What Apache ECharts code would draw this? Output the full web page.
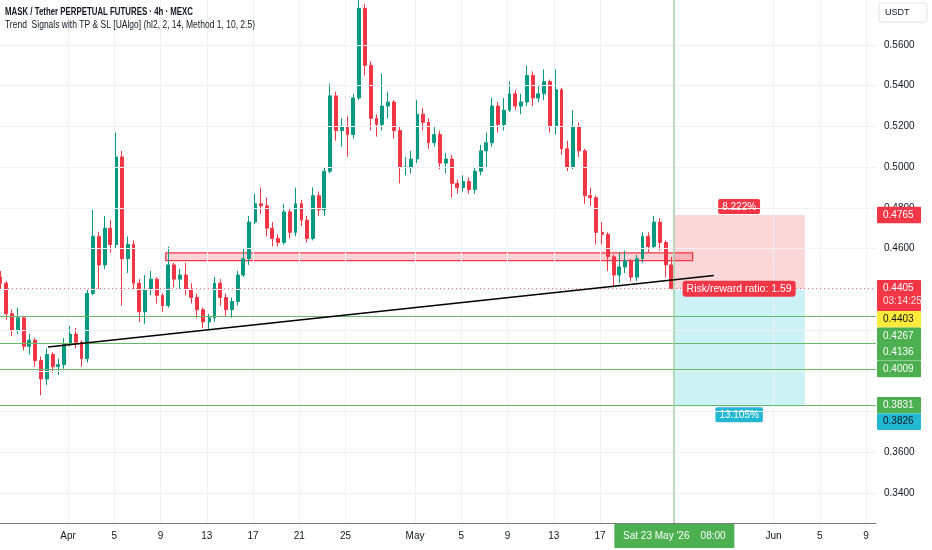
<!DOCTYPE html>
<html><head><meta charset="utf-8">
<script src="https://cdn.jsdelivr.net/npm/echarts@6/dist/echarts.min.js"></script>
<style>html,body{margin:0;padding:0;background:#fff}#c{width:932px;height:550px}</style>
</head><body><div id="c"></div><script>
// ---------- data (hours are measured from 1 Apr 00:00) ----------
const startHour = -144;      // first 12h candle opens 26 Mar 00:00
const periodH = 12;
const firstOpen = 0.446;
const closes = [
0.443,0.428,0.420,0.426,0.412,0.415,0.405,0.396,0.408,0.402,
0.403,0.413,0.418,0.414,0.406,0.438,0.466,0.452,0.470,0.462,
0.505,0.455,0.462,0.443,0.429,0.440,0.445,0.437,0.432,0.452,
0.445,0.447,0.440,0.436,0.430,0.424,0.426,0.443,0.436,0.430,
0.434,0.447,0.455,0.473,0.482,0.481,0.470,0.465,0.463,0.478,
0.468,0.482,0.474,0.465,0.486,0.479,0.498,0.535,0.518,0.520,
0.516,0.534,0.578,0.550,0.524,0.521,0.530,0.532,0.518,0.500,
0.500,0.504,0.526,0.522,0.512,0.516,0.502,0.504,0.492,0.490,
0.493,0.489,0.498,0.508,0.512,0.530,0.521,0.528,0.536,0.530,
0.532,0.545,0.534,0.536,0.542,0.520,0.538,0.509,0.500,0.520,
0.508,0.486,0.485,0.468,0.467,0.456,0.447,0.451,0.454,0.446,
0.455,0.466,0.461,0.473,0.463,0.452,0.4405];
const highs = [
0.449,0.444,0.430,0.431,0.427,0.418,0.416,0.407,0.411,0.409,
0.406,0.416,0.422,0.421,0.415,0.440,0.479,0.468,0.476,0.474,
0.517,0.508,0.466,0.464,0.445,0.447,0.449,0.446,0.438,0.461,
0.453,0.450,0.453,0.443,0.438,0.431,0.428,0.446,0.445,0.438,
0.436,0.449,0.460,0.476,0.487,0.490,0.485,0.473,0.467,0.482,
0.480,0.490,0.484,0.476,0.490,0.488,0.500,0.541,0.537,0.524,
0.525,0.536,0.590,0.580,0.552,0.526,0.546,0.537,0.533,0.520,
0.505,0.508,0.533,0.529,0.524,0.520,0.518,0.507,0.506,0.494,
0.496,0.495,0.500,0.511,0.517,0.534,0.532,0.534,0.542,0.538,
0.536,0.550,0.547,0.540,0.548,0.543,0.548,0.539,0.513,0.528,
0.522,0.509,0.490,0.486,0.473,0.468,0.457,0.458,0.459,0.455,
0.457,0.468,0.468,0.476,0.475,0.464,0.456];
const lows = [
0.440,0.425,0.417,0.418,0.410,0.408,0.402,0.388,0.393,0.399,
0.398,0.401,0.412,0.411,0.402,0.404,0.437,0.440,0.450,0.458,
0.460,0.432,0.448,0.440,0.424,0.423,0.437,0.433,0.429,0.431,
0.441,0.440,0.437,0.433,0.426,0.421,0.420,0.424,0.432,0.427,
0.426,0.432,0.446,0.452,0.472,0.477,0.466,0.461,0.461,0.462,
0.465,0.466,0.471,0.463,0.464,0.476,0.476,0.497,0.513,0.510,
0.505,0.514,0.533,0.545,0.518,0.515,0.518,0.524,0.514,0.492,
0.496,0.497,0.502,0.518,0.509,0.510,0.499,0.497,0.485,0.487,
0.488,0.487,0.487,0.496,0.500,0.510,0.517,0.518,0.527,0.528,
0.526,0.530,0.530,0.532,0.533,0.517,0.516,0.506,0.498,0.499,
0.505,0.482,0.481,0.462,0.462,0.449,0.441,0.443,0.448,0.444,
0.444,0.453,0.458,0.460,0.459,0.446,0.4395];

const xTickHours  = [0,96,192,288,384,480,576,720,816,912,1008,1104,1464,1560,1656];
const xTickLabels = ['Apr','5','9','13','17','21','25','May','5','9','13','17','Jun','5','9'];
const yGridTicks  = [0.34,0.36,0.38,0.40,0.42,0.44,0.46,0.48,0.50,0.52,0.54,0.56];
const yLabelTicks = [0.34,0.36,0.46,0.48,0.50,0.52,0.54,0.56];

const tpLevels    = [0.4267,0.4136,0.4009,0.3831];
const lastPrice   = 0.4405;
const entryPrice  = 0.4403;
const stopPrice   = 0.4765;
const targetPrice = 0.3826;
const posStartH   = 1256;   // 23 May 08:00
const posEndH     = 1529;
const stopPctText = '8.222%';
const targetPctText = '13.105%';
const rrText      = 'Risk/reward ratio: 1.59';
const zoneX       = [203, 1296];
const zoneY       = [0.4541, 0.4579];
const trendline   = [[-41.5, 0.4117], [1340, 0.4468]];
const crosshairH  = 1256;
const crosshairText = "Sat 23 May '26    08:00";
const countdown   = '03:14:25';
const badgePrices = [0.4765,0.4405,0.4403,0.4267,0.4136,0.4009,0.3831,0.3826];
const titleText   = 'MASK / Tether PERPETUAL FUTURES · 4h · MEXC';
const subText     = 'Trend  Signals with TP & SL [UAlgo] (hl2, 2, 14, Method 1, 10, 2.5)';

// ---------- chart ----------
const xMin = -141.1, xMax = 1676.5, yMin = 0.32522, yMax = 0.58210;
const FONT = "'Liberation Sans', Arial, sans-serif";
const UP = '#089981', DOWN = '#f23645';

const candles = closes.map((c, i) => {
  const o = i === 0 ? firstOpen : closes[i - 1];
  return [startHour + i * periodH + 4, o, c, lows[i], highs[i]];
});

const chart = echarts.init(document.getElementById('c'));
const option = {
  animation: false,
  backgroundColor: '#ffffff',
  textStyle: { fontFamily: FONT },
  grid: { left: 0, right: 56, top: 0, bottom: 27 },
  xAxis: {
    type: 'value', min: xMin, max: xMax,
    axisLine: { show: true, lineStyle: { color: '#787b86', width: 1 } },
    axisTick: { show: false }, splitLine: { show: false },
    axisLabel: {
      customValues: xTickHours,
      formatter: v => xTickLabels[xTickHours.indexOf(v)] ?? '',
      color: '#131722', fontSize: 10, margin: 8, fontFamily: FONT
    }
  },
  yAxis: {
    type: 'value', position: 'right', min: yMin, max: yMax,
    axisLine: { show: true, lineStyle: { color: '#787b86', width: 1 } },
    axisTick: { show: false }, splitLine: { show: false },
    axisLabel: {
      customValues: yLabelTicks,
      formatter: v => Number(v).toFixed(4),
      color: '#131722', fontSize: 10, margin: 8, fontFamily: FONT
    }
  },
  series: [
    { type: 'line', data: [], silent: true, z: 1,
      markLine: { silent: true, precision: 6, symbol: ['none','none'], label: { show: false },
        lineStyle: { color: '#eff1f5', width: 1, type: 'solid' },
        data: [...yGridTicks.map(v => ({ yAxis: v })), ...xTickHours.map(v => ({ xAxis: v }))] } },
    { type: 'line', data: [], silent: true, z: 2,
      markArea: { silent: true, data: [
        [{ name: stopPctText, xAxis: posStartH, yAxis: stopPrice,
           itemStyle: { color: 'rgba(242,54,69,0.2)' },
           label: { show: true, position: 'top', distance: 1, color: '#fff', backgroundColor: '#f23645',
                    padding: [3,4,2,4], borderRadius: 2, fontSize: 10, fontFamily: FONT } },
         { xAxis: posEndH, yAxis: entryPrice }],
        [{ name: targetPctText, xAxis: posStartH, yAxis: entryPrice,
           itemStyle: { color: 'rgba(0,188,212,0.2)' },
           label: { show: true, position: 'bottom', distance: 1, color: '#fff', backgroundColor: '#22b8d4',
                    padding: [3,4,2,4], borderRadius: 2, fontSize: 10, fontFamily: FONT } },
         { xAxis: posEndH, yAxis: targetPrice }]
      ] } },
    { type: 'line', data: [], silent: true, z: 2,
      markLine: { silent: true, precision: 6, symbol: ['none','none'], label: { show: false },
        data: [
          ...tpLevels.map(v => ({ yAxis: v, lineStyle: { color: '#66bb6a', width: 1, type: 'solid' } })),
          { yAxis: lastPrice, lineStyle: { color: '#f23645', width: 1, type: [1,3], opacity: 0.7 } }
        ] } },
    { type: 'candlestick', data: candles, encode: { x: 0, y: [1,2,3,4] }, barWidth: 3.4, z: 3,
      itemStyle: { color: UP, color0: DOWN, borderColor: UP, borderColor0: DOWN, borderWidth: 1 } },
    { type: 'line', data: [], silent: true, z: 4,
      markArea: { silent: true, data: [[
        { xAxis: zoneX[0], yAxis: zoneY[1], itemStyle: { color: 'rgba(242,54,69,0.22)', borderColor: '#f23645', borderWidth: 1.3 } },
        { xAxis: zoneX[1], yAxis: zoneY[0] }]] } },
    { type: 'line', data: trendline, symbol: 'none', silent: true, z: 5,
      lineStyle: { color: '#000000', width: 1.5 } },
    { type: 'line', data: [], silent: true, z: 5,
      markLine: { silent: true, precision: 6, symbol: ['none','none'], label: { show: false },
        data: [{ xAxis: crosshairH, lineStyle: { color: '#a3cfa5', width: 1.5, type: 'solid' } }] },
      markPoint: { silent: true, symbol: 'rect', symbolSize: 1, itemStyle: { color: 'rgba(0,0,0,0)' },
        data: [{ coord: [(posStartH + posEndH) / 2, entryPrice], value: rrText }],
        label: { show: true, position: 'inside', formatter: rrText, color: '#fff', backgroundColor: '#f23645',
                 padding: [3,4,2,4], borderRadius: 3, fontSize: 10.5, fontFamily: FONT } } }
  ]
};
chart.setOption(option);

// ---------- annotations (price badges, date badge, titles) ----------
const badgeStyles = [
  { bg: '#f23645', fg: '#ffffff' },
  { bg: '#f23645', fg: '#ffffff', sub: true },
  { bg: '#ffeb3b', fg: '#131722' },
  { bg: '#4caf50', fg: '#ffffff' },
  { bg: '#4caf50', fg: '#ffffff' },
  { bg: '#4caf50', fg: '#ffffff' },
  { bg: '#4caf50', fg: '#ffffff' },
  { bg: '#22b8d4', fg: '#131722' }
];
const els = [];
const H1 = 16.5, H2 = 31;
let prevBottom = -1e9;
badgePrices.forEach((p, i) => {
  const st = badgeStyles[i];
  const h = st.sub ? H2 : H1;
  const cy = chart.convertToPixel({ yAxisIndex: 0 }, p);
  let top = cy - H1 / 2;
  if (top < prevBottom) top = prevBottom;
  prevBottom = top + h;
  els.push({ type: 'rect', z: 100, shape: { x: 877, y: top, width: 44, height: h, r: 1 }, style: { fill: st.bg } });
  els.push({ type: 'text', z: 101, style: { text: p.toFixed(4), x: 883, y: top + H1 / 2, fill: st.fg,
    font: '10px ' + FONT, align: 'left', verticalAlign: 'middle' } });
  if (st.sub) els.push({ type: 'text', z: 101, style: { text: countdown, x: 883, y: top + H1 / 2 + 13, fill: '#ffe0e3',
    font: '10px ' + FONT, align: 'left', verticalAlign: 'middle' } });
});
const cx = chart.convertToPixel({ xAxisIndex: 0 }, crosshairH);
els.push({ type: 'rect', z: 100, shape: { x: cx - 59, y: 524, width: 120, height: 24, r: 1 }, style: { fill: '#4caf50' } });
els.push({ type: 'text', z: 101, style: { text: crosshairText, x: cx + 1, y: 536, fill: '#ffffff',
  font: '10px ' + FONT, align: 'center', verticalAlign: 'middle' } });

// title lines: condensed to the reference's narrow UI font width
const mctx = document.createElement('canvas').getContext('2d');
function fitText(text, font, x, y, targetW) {
  mctx.font = font;
  const w = mctx.measureText(text).width;
  const s = targetW / w;
  return { type: 'text', z: 101, x: x, y: y, scaleX: s, scaleY: 1, originX: 0, originY: 0,
    style: { text: text, x: 0, y: 0, fill: '#131722', font: font, align: 'left', verticalAlign: 'middle' } };
}
els.push(fitText(titleText, "bold 10px 'Liberation Sans'", 5, 12, 188));
els.push(fitText(subText, "10px 'Liberation Sans'", 5, 25, 250));
els.push({ type: 'rect', z: 99, shape: { x: 879, y: 3, width: 48, height: 19, r: 3 }, style: { fill: '#fff', stroke: '#e0e3eb', lineWidth: 1 } });
els.push({ type: 'text', z: 101, style: { text: 'USDT', x: 885, y: 13, fill: '#131722',
  font: '9px ' + FONT, align: 'left', verticalAlign: 'middle' } });
chart.setOption({ graphic: { elements: els } });
</script></body></html>
